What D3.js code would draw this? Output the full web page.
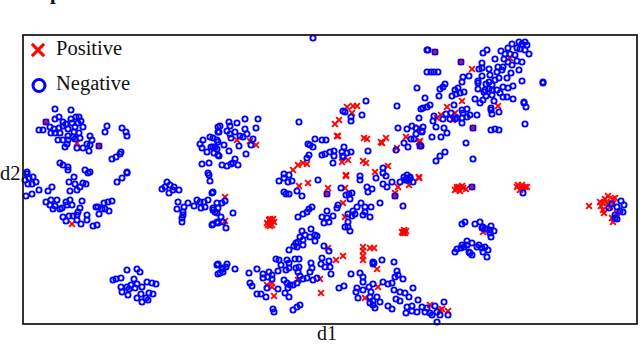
<!DOCTYPE html>
<html>
<head>
<meta charset="utf-8">
<script src="https://cdn.jsdelivr.net/npm/d3@7"></script>
<style>
  html, body { margin: 0; padding: 0; background: #fff; }
  text { font-family: "Liberation Serif", serif; fill: #111; }
</style>
</head>
<body>
<div id="chart"></div>
<script>
const negative = [
  [55,109],[71,110],[46,122],[55,119],[59,117],[63,122],[71,119],[76,117],[79,117],[81,121],[83,127],[39,130],[43,130],[50,127],[54,129],[51,133],[55,133],[59,128],[60,133],[63,126],[66,124],[68,129],[72,123],[75,127],[78,123],[74,132],[79,133],[68,136],[73,137],[63,140],[58,140],[80,138],[68,140],[75,139],[67,144],[65,147],[77,148],[83,148],[87,144],[90,136],[92,140],[89,151],[90,145],[107,126],[105,132],[122,128],[126,132],[127,136],[99,146],
  [121,152],[120,154],[116,157],[112,159],[60,163],[63,165],[68,167],[68,170],[85,170],[90,172],[127,172],[27,172],
  [74,177],[69,182],[75,184],[83,183],[86,184],[80,187],[77,190],[70,191],[52,187],[48,191],[39,190],[32,194],[26,196],[33,177],[36,182],[32,184],[27,174],[29,178],[25,180],[28,184],[122,178],[117,182],[127,173],[88,173],
  [46,202],[51,200],[57,200],[50,205],[53,209],[55,206],[60,209],[62,208],[66,202],[70,200],[67,205],[72,205],[82,201],[80,208],[78,212],[77,215],[73,216],[69,216],[63,217],[66,221],[77,220],[81,224],[87,215],[87,220],[93,226],[97,225],[96,207],[98,207],[104,203],[108,202],[112,201],[102,209],[99,214],[105,209],[109,211],
  [162,189],[167,182],[170,185],[165,187],[174,187],[179,190],[173,190],[169,193],[178,202],[188,203],[184,207],[177,209],[194,206],[197,200],[200,202],[205,207],[201,208],[204,202],[208,200],[213,210],[212,193],[209,175],[210,181],[183,212],[183,215],[182,218],[182,222],[212,225],[217,222],[217,213],
  [127,270],[137,269],[140,272],[121,278],[116,279],[113,280],[134,279],[147,282],[152,283],[156,284],[121,287],[127,287],[131,285],[137,284],[142,287],[122,292],[128,295],[129,289],[135,288],[149,293],[153,294],[137,298],[141,294],[146,298],[148,300],[142,302],[217,265],[218,274],
  [313,38],[258,119],[245,119],[229,122],[237,123],[220,126],[230,126],[256,128],[227,131],[219,132],[235,132],[230,134],[245,129],[247,134],[240,136],[243,137],[231,138],[253,139],[213,138],[218,142],[224,145],[239,146],[251,145],[215,147],[217,149],[229,151],[214,153],[219,156],[246,154],[235,159],[222,165],[227,166],[231,164],[233,163],[238,165],[211,147],
  [200,144],[203,140],[210,137],[202,148],[207,152],[213,147],[218,127],[218,132],[217,140],[218,155],[202,164],[209,163],[208,173],
  [299,122],[366,101],[343,111],[345,112],[351,117],[351,121],[362,115],[397,106],[417,88],[427,50],[427,72],[425,98],[421,109],[427,107],[419,118],[398,128],[407,129],[412,126],[416,128],[422,132],[416,134],[411,139],[414,139],[404,143],[408,147],[396,150],[420,146],
  [308,144],[310,145],[313,147],[315,139],[322,140],[326,140],[309,155],[307,158],[322,155],[325,154],[330,152],[334,151],[334,156],[342,152],[344,147],[343,156],[347,153],[351,152],[343,157],[333,163],[368,151],
  [383,168],[383,173],[386,176],[360,176],[404,177],[407,175],[410,177],[407,179],[405,180],[409,180],[284,174],[289,175],[318,180],
  [279,181],[284,178],[288,182],[292,181],[284,192],[286,194],[289,194],[297,191],[302,196],[327,194],[341,188],[346,195],[352,193],[349,194],[350,199],[338,205],[337,208],[360,180],[367,187],[372,189],[368,192],[376,178],[383,184],[387,187],[392,182],[400,182],[407,180],[410,178],[413,182],[380,203],[403,206],[395,196],
  [298,217],[303,214],[307,212],[309,209],[312,207],[322,217],[327,211],[333,216],[327,218],[324,223],[329,222],
  [361,203],[357,207],[365,207],[371,207],[353,211],[348,214],[365,212],[370,217],[363,215],[355,214],[352,216],[348,222],[345,227],[350,231],[348,227],
  [213,192],[225,201],[222,203],[217,203],[213,208],[218,208],[215,212],[221,217],[233,213],[218,223],[213,224],[226,228],[223,222],
  [472,187],[523,193],[609,208],[612,204],[617,207],[621,201],[624,205],[620,211],[623,212],[615,215],[615,218],[617,219],
  [462,224],[465,222],[475,224],[480,222],[491,226],[494,231],[490,230],[483,227],[485,229],[482,228],[490,233],[491,237],[487,229],
  [455,252],[457,249],[462,245],[461,248],[464,247],[467,241],[472,243],[467,245],[477,247],[479,245],[482,248],[485,247],[488,250],[483,252],[487,257],[469,252],[472,255],[470,253],
  [302,231],[311,229],[305,235],[310,237],[315,235],[317,236],[315,241],[300,237],[303,240],[303,245],[298,242],[296,243],[294,246],[289,250],[297,247],[324,246],[329,251],[322,258],[329,261],[321,264],[325,267],[330,267],[331,274],[311,263],[312,268],
  [276,259],[279,260],[295,259],[299,259],[287,260],[289,263],[281,265],[278,271],[286,270],[289,268],[296,268],[299,267],[298,272],[307,278],[303,279],[300,276],[313,280],[317,278],[310,272],
  [249,273],[257,269],[263,274],[269,272],[272,275],[263,278],[268,277],[272,279],[284,280],[287,283],[290,285],[293,285],[297,283],[288,288],[278,289],[285,293],[289,297],[250,283],[252,286],[267,288],[257,294],[261,294],[266,297],[273,309],[274,312],[293,310],[297,307],[300,305],
  [218,264],[226,267],[223,269],[227,264],[235,269],[220,273],[223,272],[222,268],
  [351,274],[339,288],[344,286],[360,273],[363,277],[363,282],[382,260],[394,262],[373,262],[373,264],[374,263],
  [397,271],[395,277],[398,275],[403,279],[383,282],[388,284],[392,283],[373,284],[369,287],[357,288],[363,290],[356,292],[371,292],[394,290],[400,292],[405,293],[413,288],[409,297],[358,298],[370,297],[373,301],[380,302],[370,303],[396,299],[400,301],[418,300],[407,307],[375,308],[388,306],[392,309],[406,313],[412,306],[412,311],[417,312],[422,307],[427,308],[425,312],[430,313],[435,306],[437,312],[432,315],[444,302],[448,315],[440,315],[437,322],[373,305],[377,297],
  [428,50],[435,52],[461,62],[431,72],[434,72],[438,72],[483,53],[487,50],[501,51],[495,59],[508,48],[512,44],[519,42],[525,42],[527,45],[522,44],[517,48],[520,49],[525,50],[529,54],[505,54],[510,54],[504,59],[515,55],[517,61],[522,62],[508,62],[503,67],[498,67],[512,65],[519,70],[511,73],[502,70],[497,72],[482,63],[479,69],[482,68],[489,69],[490,75],[482,76],[499,78],[495,80],[507,78],[522,81],[478,81],[478,83],[486,84],[489,82],[492,85],[478,89],[485,90],[489,89],[492,90],[497,90],[503,87],[508,88],[513,86],[500,93],[503,97],[507,97],[513,99],[484,92],[486,96],[492,95],[483,100],[480,103],[475,99],[494,101],[543,82],[543,83],[524,102],[524,103],[526,107],[491,108],[491,110],[499,112],[492,114],[525,124],[491,130],[495,129],[499,130],[473,128],
  [469,76],[463,77],[462,82],[445,84],[443,87],[440,89],[439,96],[455,90],[458,88],[460,93],[464,92],[456,94],[452,96],[430,105],[423,108],[454,105],[462,110],[467,109],[463,113],[470,115],[477,115],[467,117],[462,118],[457,118],[451,113],[446,114],[434,116],[433,121],[443,119],[450,119],[455,119],[462,123],[436,127],[444,128],[447,133],[423,127],[422,131],[432,137],[441,137],[466,143],[445,152],[440,156],[436,161],[473,159],[421,146]
];

const positive = [
  [46,122],[99,146],[77,143],[72,224],[237,140],[250,141],[256,145],[293,170],[298,165],[303,163],[307,164],[335,124],[339,120],[337,136],[338,136],[364,138],[367,139],[382,143],[381,142],[386,138],[406,137],[397,148],[419,142],[347,107],[353,106],[357,106],[352,113],[342,162],[348,160],[363,161],[366,163],[388,166],[346,175],[375,172],[419,177],[419,128],
  [225,197],[225,221],[299,186],[308,183],[328,188],[345,188],[345,217],[343,203],[346,176],[419,178],[398,187],[395,193],[409,185],[327,194],[395,196],
  [267,223],[269,220],[272,220],[274,222],[268,225],[272,225],[270,226],[270,219],[273,219],
  [402,232],[404,230],[406,231],[403,233],[405,233],[404,232],
  [457,189],[459,187],[455,190],[463,188],[460,191],[457,187],[462,186],[466,189],[472,187],
  [518,185],[523,188],[527,187],[520,190],[525,187],[517,187],[522,185],
  [589,206],[600,202],[605,199],[608,196],[613,199],[603,203],[607,203],[611,202],[603,210],[604,213],[615,198],[612,218],[613,222],[617,213],[601,206],[610,207],
  [483,232],[363,247],[363,251],[363,256],[363,260],[370,248],[374,248],[377,269],[328,248],[336,260],[343,256],[320,279],[321,293],[298,280],[267,285],[272,283],[272,287],[274,296],[365,298],[378,287],[430,305],[442,309],[448,311],[440,310],
  [435,52],[461,62],[473,128],[472,69],[462,101],[498,106],[447,107],[441,115],[437,118],[455,113],[453,120],[510,58],[420,141],[420,146]
];

const legendLabels = ["Positive", "Negative"];
const axisLabels = ["d1", "d2"];

const width = 640;
const height = 344;
const margin = { top: 35, right: 3, bottom: 20, left: 23 };

const svg = d3.select("#chart")
  .append("svg")
  .attr("width", width)
  .attr("height", height)
  .style("display", "block");

const x = d3.scaleLinear().domain([23, 637]).range([margin.left, width - margin.right]);
const y = d3.scaleLinear().domain([35, 324]).range([margin.top, height - margin.bottom]);

// Red crosses go under the open blue circles
const cross = d3.symbol().type(d3.symbolX).size(24);

svg.append("g")
  .selectAll("path")
  .data(positive)
  .join("path")
  .attr("d", cross)
  .attr("transform", d => `translate(${x(d[0])},${y(d[1])})`)
  .attr("fill", "none")
  .attr("stroke", "#f00")
  .attr("stroke-width", 1.9);

svg.append("g")
  .selectAll("circle")
  .data(negative)
  .join("circle")
  .attr("cx", d => x(d[0]))
  .attr("cy", d => y(d[1]))
  .attr("r", 2.6)
  .attr("fill", "none")
  .attr("stroke", "#00f")
  .attr("stroke-width", 1.9);

// Frame
svg.append("rect")
  .attr("x", x.range()[0])
  .attr("y", y.range()[0])
  .attr("width", x.range()[1] - x.range()[0])
  .attr("height", y.range()[1] - y.range()[0])
  .attr("fill", "none")
  .attr("stroke", "#111")
  .attr("stroke-width", 1.7);

// Legend
const legend = svg.append("g");

legend.append("path")
  .attr("d", d3.symbol().type(d3.symbolX).size(100))
  .attr("transform", "translate(38,50)")
  .attr("fill", "none")
  .attr("stroke", "#f00")
  .attr("stroke-width", 3);

legend.append("circle")
  .attr("cx", 39)
  .attr("cy", 85.5)
  .attr("r", 6)
  .attr("fill", "none")
  .attr("stroke", "#00f")
  .attr("stroke-width", 3);

legend.selectAll("text")
  .data(legendLabels)
  .join("text")
  .attr("x", 56)
  .attr("y", (d, i) => 55 + i * 35)
  .attr("font-size", 20.5)
  .text(d => d);

// Axis labels
svg.append("text")
  .attr("x", 327)
  .attr("y", 339.5)
  .attr("text-anchor", "middle")
  .attr("font-size", 20)
  .text(axisLabels[0]);

svg.append("text")
  .attr("x", 0)
  .attr("y", 180)
  .attr("font-size", 20.5)
  .text(axisLabels[1]);

// Only the descender of the title's p is left at the top edge of the picture
svg.append("text")
  .attr("x", 50)
  .attr("y", -1)
  .attr("font-size", 20.5)
  .attr("font-weight", "bold")
  .text("p");
</script>
</body>
</html>
